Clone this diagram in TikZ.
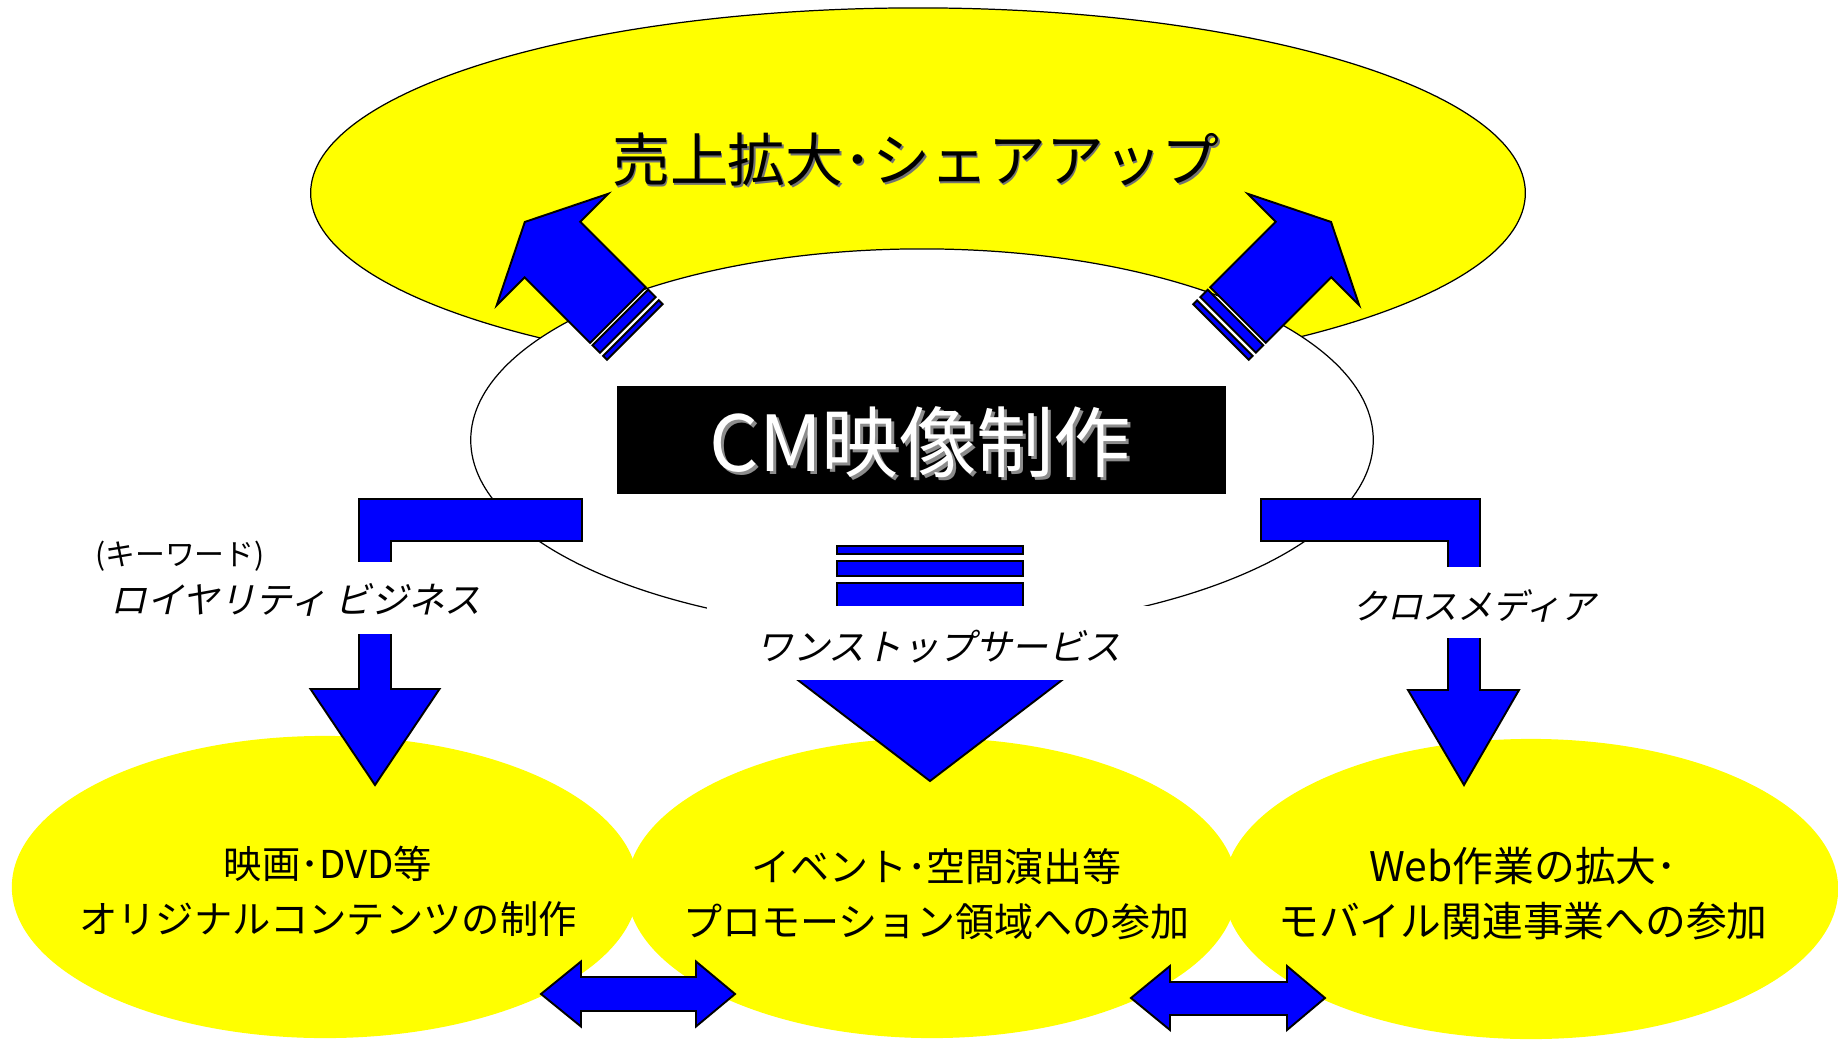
\documentclass[tikz,border=0pt]{standalone}
\usepackage{fontspec}
\setmainfont{Noto Sans CJK JP}
\newfontfamily\jpsl[FakeSlant=0.22]{Noto Sans CJK JP}
\usetikzlibrary{shapes.geometric}
\definecolor{ylwc}{RGB}{255,255,0}
\definecolor{bluc}{RGB}{0,0,255}
\begin{document}
\begin{tikzpicture}[x=0.01cm,y=-0.01cm,
  ylw/.style={ellipse, fill=ylwc, inner sep=0pt, outer sep=0pt},
  outl/.style={draw=black, line width=0.35pt},
  bshape/.style={fill=bluc, draw=black, line width=0.55pt, line join=miter},
  lbl/.style={inner sep=0pt, font=\jpsl\fontsize{10.4}{12}\selectfont},
  body/.style={inner sep=0pt, align=center}]
\useasboundingbox[fill=white] (0,0) rectangle (1838,1042);

% ellipses
\node[ylw, outl, minimum width=12.14cm, minimum height=3.70cm] (goal) at (918,193) {};
\node[ellipse, fill=white, outl, inner sep=0pt, minimum width=9.02cm, minimum height=3.82cm] (core) at (922,440) {};
\node[ylw, minimum width=6.26cm, minimum height=3.02cm] (e1) at (325,887) {};
\node[ylw, minimum width=6.10cm, minimum height=3.00cm] (e2) at (932,888) {};
\node[ylw, minimum width=6.14cm, minimum height=3.00cm] (e3) at (1531,889) {};

% top arrows
\begin{scope}[shift={(617.9,315)}, rotate=135]
  \draw[bshape] (0,-39.3) -- (92.6,-39.3) -- (92.6,-78.8) -- (131.6,0) -- (92.6,78.8) -- (92.6,39.3) -- (0,39.3) -- cycle;
  \draw[bshape] (-3.5,-39.3) rectangle (-14,39.3);
  \draw[bshape] (-18.5,-39.3) rectangle (-24,39.3);
\end{scope}
\begin{scope}[shift={(1238,315)}, rotate=45]
  \draw[bshape] (0,-39.3) -- (92.6,-39.3) -- (92.6,-78.8) -- (131.6,0) -- (92.6,78.8) -- (92.6,39.3) -- (0,39.3) -- cycle;
  \draw[bshape] (-3.5,-39.3) rectangle (-14,39.3);
  \draw[bshape] (-18.5,-39.3) rectangle (-24,39.3);
\end{scope}

% bent arrows
\draw[bshape] (582,499) -- (359,499) -- (359,689) -- (310.5,689) -- (375,785) -- (439.5,689) -- (391,689) -- (391,541) -- (582,541) -- cycle;
\draw[bshape] (1261,499) -- (1480,499) -- (1480,690) -- (1519,690) -- (1464,785) -- (1408,690) -- (1448,690) -- (1448,541) -- (1261,541) -- cycle;

% centre arrow
\draw[bshape] (837,546) rectangle (1023,554);
\draw[bshape] (837,561) rectangle (1023,576);
\draw[bshape] (837,583) -- (1023,583) -- (1023,676) -- (1067.4,676) -- (930,781) -- (792.6,676) -- (837,676) -- cycle;

% covers under labels
\fill[white] (345,562) rectangle (405,634);
\fill[white] (1435,567) rectangle (1495,638);
\fill[white] (707,605.5) rectangle (1152,679.8);

% double arrows
\draw[bshape] (541,994) -- (581,961.5) -- (581,977) -- (696,977) -- (696,961.5) -- (735,994) -- (696,1026.5) -- (696,1011) -- (581,1011) -- (581,1026.5) -- cycle;
\draw[bshape] (1131,998) -- (1170,966) -- (1170,982) -- (1287,982) -- (1287,966) -- (1325,998) -- (1287,1030) -- (1287,1015) -- (1170,1015) -- (1170,1030) -- cycle;

% CM box
\node[fill=black, inner sep=0pt, minimum width=6.09cm, minimum height=1.08cm] (cm) at (921.5,440) {};
\node[inner sep=0pt, text=black!45, font=\fontsize{22}{26}\selectfont] (cmsh) at (923.5,445) {CM映像制作};
\node[inner sep=0pt, text=white, font=\fontsize{22}{26}\selectfont] (cmtx) at (920.5,442) {CM映像制作};

% title
\node[inner sep=0pt, text=black!55, font=\fontsize{16.45}{20}\selectfont] (ttlsh) at (917.5,161.5) {売上拡大･シェアアップ};
\node[inner sep=0pt, font=\fontsize{16.45}{20}\selectfont] (ttl) at (916,160) {売上拡大･シェアアップ};

% labels
\node[inner sep=0pt, font=\fontsize{8.5}{10}\selectfont] (kw) at (180,556) {(キーワード)};
\node[lbl] (roy) at (296,600) {ロイヤリティ ビジネス};
\node[lbl, font=\jpsl\fontsize{10}{12}\selectfont] (cross) at (1474,606) {クロスメディア};
\node[lbl] (one) at (939,647) {ワンストップサービス};

% bottom texts
\node[body, font=\fontsize{10.9}{15.6}\selectfont] (t1) at (328,891.5) {映画･DVD等\\オリジナルコンテンツの制作};
\node[body, font=\fontsize{11.1}{15.6}\selectfont] (t2) at (936.5,894) {イベント･空間演出等\\プロモーション領域への参加};
\node[body, font=\fontsize{11.6}{15.6}\selectfont] (t3) at (1523,894) {Web作業の拡大･\\モバイル関連事業への参加};
\end{tikzpicture}
\end{document}
